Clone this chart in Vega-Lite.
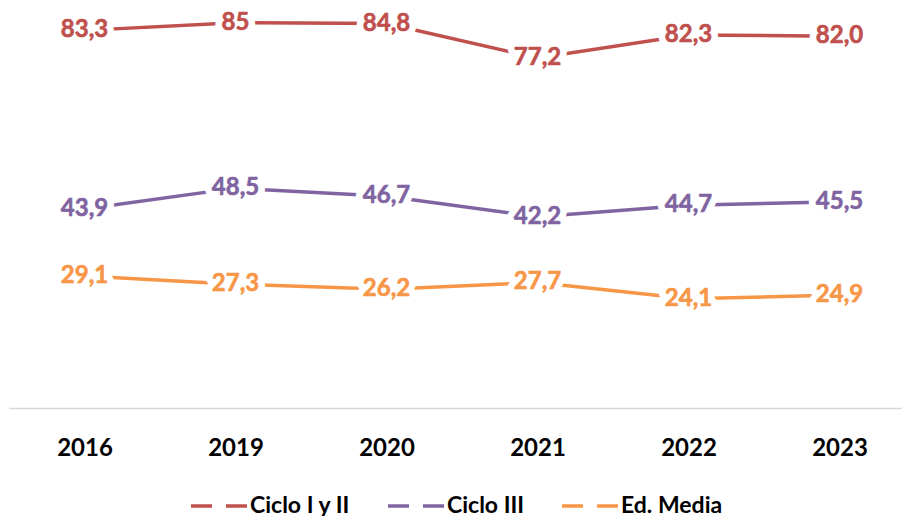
{
  "$schema": "https://vega.github.io/schema/vega-lite/v6.json",
  "width": 906,
  "height": 408,
  "autosize": {"type": "none"},
  "padding": {"left": 9, "top": 0, "right": 0, "bottom": 108},
  "background": "white",
  "config": {"view": {"stroke": null}, "font": "Lato"},
  "data": {"values": [
    {"year": "2016", "series": "Ciclo I y II", "value": 83.3, "label": "83,3"},
    {"year": "2019", "series": "Ciclo I y II", "value": 85.0, "label": "85"},
    {"year": "2020", "series": "Ciclo I y II", "value": 84.8, "label": "84,8"},
    {"year": "2021", "series": "Ciclo I y II", "value": 77.2, "label": "77,2"},
    {"year": "2022", "series": "Ciclo I y II", "value": 82.3, "label": "82,3"},
    {"year": "2023", "series": "Ciclo I y II", "value": 82.0, "label": "82,0"},
    {"year": "2016", "series": "Ciclo III", "value": 43.9, "label": "43,9"},
    {"year": "2019", "series": "Ciclo III", "value": 48.5, "label": "48,5"},
    {"year": "2020", "series": "Ciclo III", "value": 46.7, "label": "46,7"},
    {"year": "2021", "series": "Ciclo III", "value": 42.2, "label": "42,2"},
    {"year": "2022", "series": "Ciclo III", "value": 44.7, "label": "44,7"},
    {"year": "2023", "series": "Ciclo III", "value": 45.5, "label": "45,5"},
    {"year": "2016", "series": "Ed. Media", "value": 29.1, "label": "29,1"},
    {"year": "2019", "series": "Ed. Media", "value": 27.3, "label": "27,3"},
    {"year": "2020", "series": "Ed. Media", "value": 26.2, "label": "26,2"},
    {"year": "2021", "series": "Ed. Media", "value": 27.7, "label": "27,7"},
    {"year": "2022", "series": "Ed. Media", "value": 24.1, "label": "24,1"},
    {"year": "2023", "series": "Ed. Media", "value": 24.9, "label": "24,9"}
  ]},
  "encoding": {
    "x": {"field": "year", "type": "ordinal", "scale": {"type": "point", "padding": 0.5},
      "axis": {"title": null, "labelAngle": 0, "ticks": false, "domainColor": "#d9d9d9", "domainWidth": 1.5,
        "labelFont": "Lato", "labelFontWeight": "bold", "labelFontSize": 24, "labelColor": "#000000", "labelPadding": 28, "grid": false}},
    "y": {"field": "value", "type": "quantitative", "scale": {"domain": [0, 90]}, "axis": null}
  },
  "layer": [
    {
      "mark": {"type": "line", "strokeWidth": 3.5},
      "encoding": {
        "color": {"field": "series", "type": "nominal",
          "scale": {"domain": ["Ciclo I y II", "Ciclo III", "Ed. Media"], "range": ["#C0504D", "#8064A2", "#F79646"]},
          "legend": {"title": null, "orient": "none", "legendX": 180, "legendY": 476, "direction": "horizontal",
            "symbolType": "stroke", "symbolSize": 3136, "symbolStrokeWidth": 3.5, "symbolDash": [21, 14],
            "labelFont": "Lato", "labelFontWeight": "bold", "labelFontSize": 23, "labelColor": "#000000",
            "labelOffset": 1, "columnPadding": 30}}
      }
    },
    {
      "mark": {"type": "text", "font": "Lato", "fontWeight": "bold", "fontSize": 24, "color": "white", "stroke": "white", "strokeWidth": 14, "strokeJoin": "round"},
      "encoding": {"text": {"field": "label"}}
    },
    {
      "mark": {"type": "text", "font": "Lato", "fontWeight": "bold", "fontSize": 24, "strokeWidth": 0.6},
      "encoding": {"text": {"field": "label"},
        "color": {"field": "series", "type": "nominal", "legend": null},
        "stroke": {"field": "series", "type": "nominal", "legend": null, "scale": {"domain": ["Ciclo I y II", "Ciclo III", "Ed. Media"], "range": ["#C0504D", "#8064A2", "#F79646"]}}}
    }
  ]
}
